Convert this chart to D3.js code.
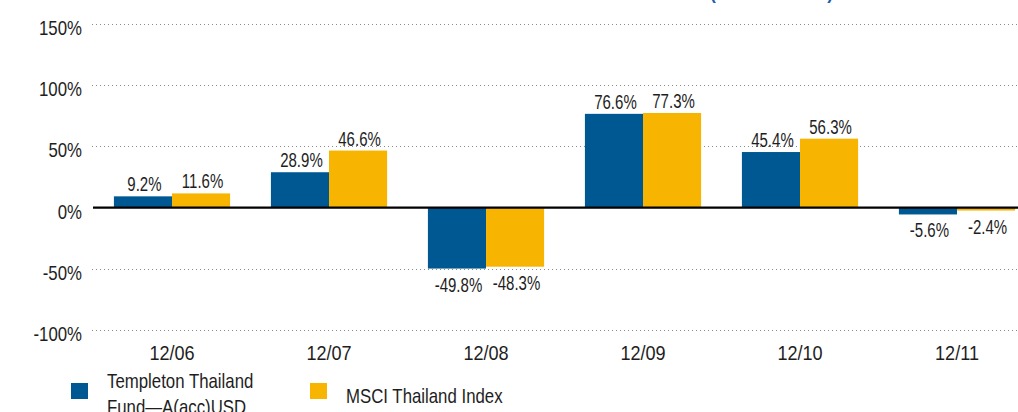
<!DOCTYPE html>
<html><head><meta charset="utf-8">
<script src="https://cdn.jsdelivr.net/npm/d3@7"></script>
<style>
html,body{margin:0;padding:0;background:#fff;}
svg{display:block;font-family:"Liberation Sans",Arial,sans-serif;}
</style></head><body>
<svg id="c" width="1018" height="412"></svg>
<script>
const categories = ["12/06","12/07","12/08","12/09","12/10","12/11"];
const seriesNames = ["Templeton Thailand Fund—A(acc)USD","MSCI Thailand Index"];
const fundValues = [9.2, 28.9, -49.8, 76.6, 45.4, -5.6];
const indexValues = [11.6, 46.6, -48.3, 77.3, 56.3, -2.4];
const yTicks = [150, 100, 50, 0, -50, -100];
const colors = ["#005893", "#f7b400"];

const svg = d3.select("#c");
const y = d3.scaleLinear().domain([-100, 150]).range([330, 24]);
const x0 = d3.scaleBand().domain(categories).range([93.5, 1035.5]).paddingInner(0.26).paddingOuter(0.13);
const x1 = d3.scaleBand().domain(seriesNames).range([0, x0.bandwidth()]);

// condense text horizontally (no narrow font installed)
function condense(sel, f) {
  sel.each(function () {
    const w = this.getComputedTextLength();
    d3.select(this).attr("textLength", w * f).attr("lengthAdjust", "spacingAndGlyphs");
  });
}

// clipped title fragment
const title = svg.append("text").attr("x", 710).attr("y", -1.5).attr("fill", "#1a5fa8")
  .attr("font-weight", "bold").attr("font-size", 19)
  .text("(Total Returns)");
condense(title, 0.92);

// grid lines
svg.append("g").selectAll("line").data(yTicks.filter(d => d !== 0)).join("line")
  .attr("x1", 92).attr("x2", 1018)
  .attr("y1", d => Math.round(y(d)) + 0.5).attr("y2", d => Math.round(y(d)) + 0.5)
  .attr("stroke", "#8a8a8a").attr("stroke-width", 1).attr("stroke-dasharray", "1,3");

// y axis labels
const yAxis = d3.axisLeft(y).tickValues(yTicks).tickSize(0).tickPadding(0).tickFormat(d => d + "%");
const ga = svg.append("g").attr("transform", "translate(82,0)").call(yAxis);
ga.select(".domain").remove();
ga.selectAll("text").attr("font-size", 21).attr("fill", "#1e1e1e").attr("dy", "0.5em")
  .attr("font-family", "Liberation Sans, Arial, sans-serif");
condense(ga.selectAll("text"), 0.8);

// bars
const data = categories.map((c, i) => ({cat: c, vals: [fundValues[i], indexValues[i]]}));
const groups = svg.append("g").selectAll("g").data(data).join("g")
  .attr("transform", d => `translate(${x0(d.cat)},0)`);
groups.selectAll("rect").data(d => d.vals.map((v, k) => ({v, k}))).join("rect")
  .attr("x", d => x1(seriesNames[d.k]))
  .attr("width", x1.bandwidth())
  .attr("y", d => y(Math.max(0, d.v)))
  .attr("height", d => Math.abs(y(d.v) - y(0)))
  .attr("fill", d => colors[d.k]);
const vlab = groups.selectAll("text").data(d => d.vals.map((v, k) => ({v, k}))).join("text")
  .attr("x", d => x1(seriesNames[d.k]) + x1.bandwidth() / 2 + 1.5)
  .attr("y", d => d.v >= 0 ? y(d.v) - 5 : y(d.v) + 23)
  .attr("text-anchor", "middle").attr("font-size", 19.5).attr("fill", "#1e1e1e")
  .text(d => d.v.toFixed(1) + "%");
condense(vlab, 0.77);

// zero line
svg.append("line").attr("x1", 93).attr("x2", 1018).attr("y1", y(0)).attr("y2", y(0))
  .attr("stroke", "#000").attr("stroke-width", 2.2);

// x axis labels
const xAxis = d3.axisBottom(x0).tickSize(0).tickPadding(0);
const gx = svg.append("g").attr("transform", "translate(0,345)").call(xAxis);
gx.select(".domain").remove();
gx.selectAll("text").attr("font-size", 21).attr("fill", "#1e1e1e").attr("dy", "0.7em")
  .attr("font-family", "Liberation Sans, Arial, sans-serif");
condense(gx.selectAll("text"), 0.86);

// legend
const legend = svg.append("g");
legend.append("rect").attr("x", 71).attr("y", 383).attr("width", 17).attr("height", 16).attr("fill", colors[0]);
const t1 = legend.append("text").attr("x", 107).attr("y", 388).attr("font-size", 21).attr("fill", "#1e1e1e");
t1.append("tspan").attr("x", 107).text("Templeton Thailand");
t1.append("tspan").attr("x", 107).attr("dy", 26).text("Fund—A(acc)USD");
condense(t1.selectAll("tspan"), 0.8);
legend.append("rect").attr("x", 310).attr("y", 383).attr("width", 17).attr("height", 16).attr("fill", colors[1]);
const t2 = legend.append("text").attr("x", 346).attr("y", 402.5).attr("font-size", 21).attr("fill", "#1e1e1e").text(seriesNames[1]);
condense(t2, 0.8);
</script>
</body></html>
